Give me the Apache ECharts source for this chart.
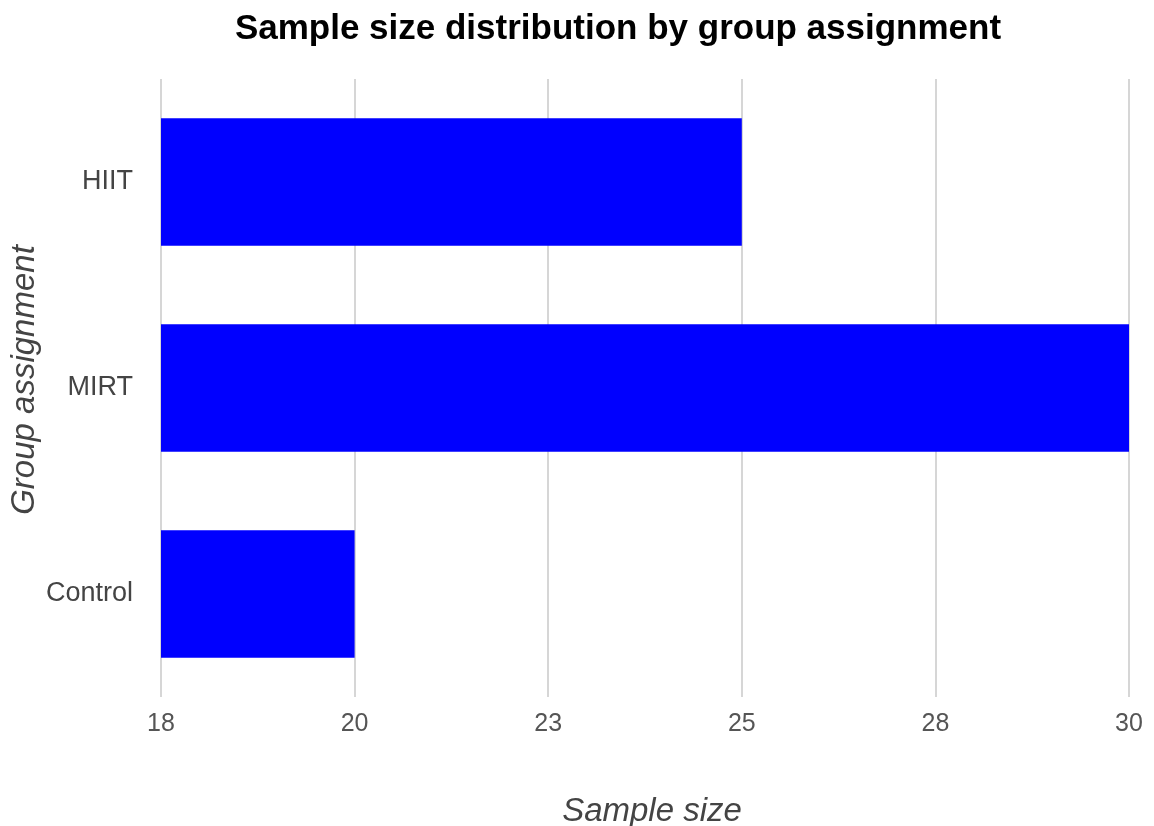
<!DOCTYPE html>
<html>
<head>
<meta charset="utf-8">
<script src="https://cdn.jsdelivr.net/npm/echarts@6/dist/echarts.min.js"></script>
<style>html,body{margin:0;padding:0;background:#fff;}#c{width:1154px;height:826px;}</style>
</head>
<body>
<div id="c"></div>
<script>
const categories = ['Control', 'MIRT', 'HIIT'];
const sampleSizes = [20, 30, 25];
const xMin = 17.5, xMax = 30, xInterval = 2.5;
const titleText = 'Sample size distribution by group assignment';
const xTitle = 'Sample size';
const yTitle = 'Group assignment';

const chart = echarts.init(document.getElementById('c'), null, {renderer: 'canvas'});
chart.setOption({
  animation: false,
  backgroundColor: '#ffffff',
  title: {
    text: titleText,
    left: 613,
    top: 7,
    textAlign: 'center',
    textStyle: {fontFamily: 'Liberation Sans, Arial, sans-serif', fontSize: 35, fontWeight: 'bold', color: '#000'}
  },
  grid: {left: 161, right: 25, top: 79, bottom: 129, containLabel: false, outerBoundsMode: 'none'},
  xAxis: {
    type: 'value',
    min: xMin, max: xMax, interval: xInterval,
    name: xTitle,
    nameLocation: 'middle',
    nameGap: 98,
    nameMoveOverlap: false,
    nameTextStyle: {fontFamily: 'Liberation Sans, Arial, sans-serif', fontSize: 33, fontStyle: 'italic', color: '#444', padding: [0, 0, 0, 14]},
    axisLine: {show: false},
    axisTick: {show: false},
    axisLabel: {
      margin: 15,
      fontFamily: 'Liberation Sans, Arial, sans-serif', fontSize: 25, color: '#555',
      formatter: v => String(Math.round(v))
    },
    splitLine: {show: true, lineStyle: {color: '#d6d6d6', width: 2}}
  },
  yAxis: {
    type: 'category',
    data: categories,
    name: yTitle,
    nameLocation: 'middle',
    nameGap: 120,
    nameRotate: 90,
    nameMoveOverlap: false,
    nameTextStyle: {fontFamily: 'Liberation Sans, Arial, sans-serif', fontSize: 33, fontStyle: 'italic', color: '#444', padding: [0, 0, 0, 16]},
    axisLine: {show: false},
    axisTick: {show: false},
    axisLabel: {margin: 28, fontFamily: 'Liberation Sans, Arial, sans-serif', fontSize: 27, color: '#444'},
    splitLine: {show: false}
  },
  series: [{
    type: 'bar',
    data: sampleSizes,
    barCategoryGap: '38%',
    itemStyle: {color: '#0000ff'}
  }]
});
</script>
</body>
</html>
